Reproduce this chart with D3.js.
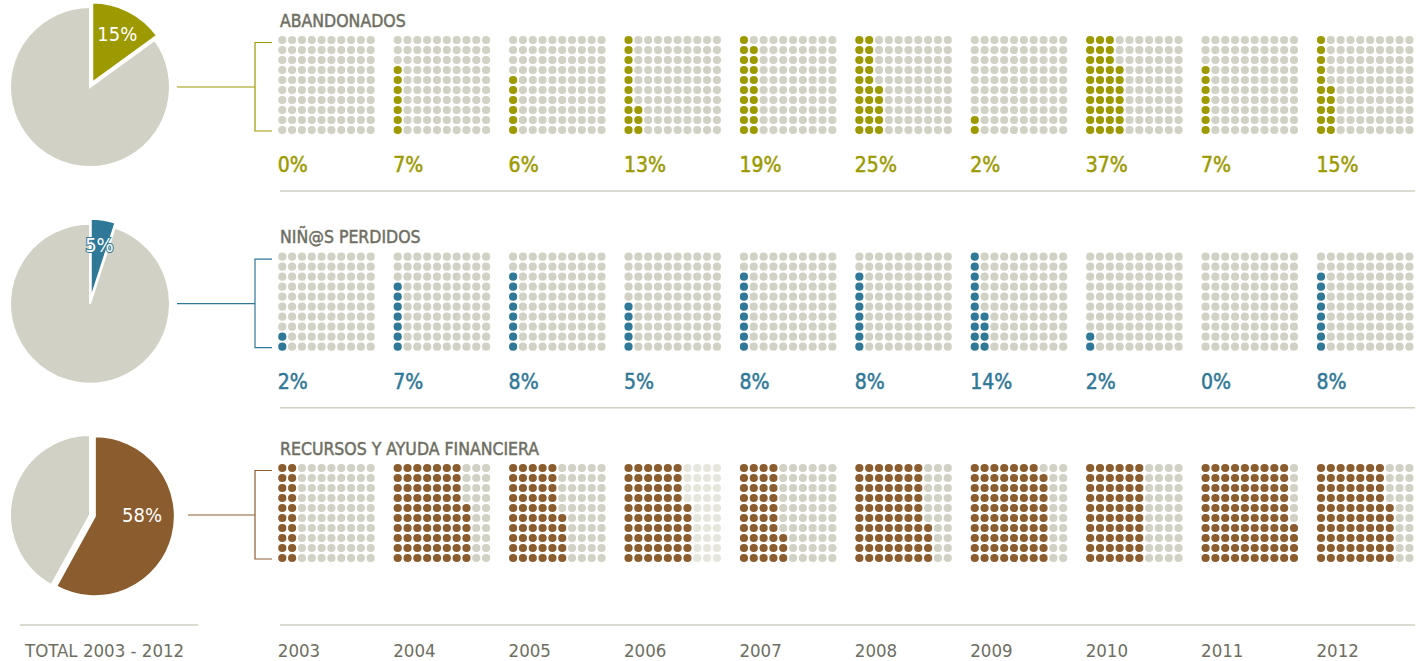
<!DOCTYPE html>
<html>
<head>
<meta charset="utf-8">
<script src="https://cdn.jsdelivr.net/npm/d3@7"></script>
<style>
  body { margin: 0; background: #fff; }
  text { font-family: "DejaVu Sans Condensed", "Liberation Sans Narrow", sans-serif; }
</style>
</head>
<body>
<svg id="chart" width="1423" height="661"></svg>
<script>
// data
var years = [2003, 2004, 2005, 2006, 2007, 2008, 2009, 2010, 2011, 2012];
var categories = ["ABANDONADOS", "NIÑ@S PERDIDOS", "RECURSOS Y AYUDA FINANCIERA"];
var totals = [15, 5, 58];
var abandonados = [0, 7, 6, 13, 19, 25, 2, 37, 7, 15];
var perdidos = [2, 7, 8, 5, 8, 8, 14, 2, 0, 8];
var recursos = [20, 76, 55, 66, 43, 74, 79, 60, 94, 76];
var totalLabel = "TOTAL 2003 - 2012";

var series = [abandonados, perdidos, recursos];
var colors = ["#9c9a00", "#2f7898", "#8b5c2e"];
var showPct = [true, true, false];

var grey = "#d1d1c5",
    lightGrey = "#e6e6de",
    textGrey = "#6e6e62",
    ruleGrey = "#cfcfc2";

var svg = d3.select("#chart");

// layout
var rowTop = [40, 256.7, 468];
var lineStart = [177, 177, 188];
var pieX = 90, pieR = 80;

var x = d3.scalePoint().domain(years).range([282.3, 1321]);
var col = d3.scaleLinear().domain([0, 9]).range([0, 88.4]);
var row = d3.scaleLinear().domain([0, 9]).range([0, 90]);

var cells = d3.range(100);

var pie = d3.pie().sort(null).startAngle(0);
var arc = d3.arc().innerRadius(0).outerRadius(pieR);

series.forEach(function(values, s) {
  var top = rowTop[s];
  var g = svg.append("g");

  // title
  g.append("text")
      .attr("x", 280)
      .attr("y", top - 13.5)
      .attr("fill", textGrey)
      .attr("stroke", textGrey)
      .attr("stroke-width", 0.45)
      .style("font-size", "17.5px")
      .text(categories[s]);

  // waffles
  years.forEach(function(yr, i) {
    var v = values[i];
    var faded = (s == 2 && yr == 2006);
    g.append("g")
        .attr("transform", "translate(" + x(yr) + "," + top + ")")
      .selectAll("circle")
        .data(cells)
      .enter().append("circle")
        .attr("cx", function(d) { return col(Math.floor(d / 10)); })
        .attr("cy", function(d) { return row(9 - d % 10); })
        .attr("r", 4.1)
        .attr("fill", function(d) {
          if (d < v) return colors[s];
          return faded ? lightGrey : grey;
        });

    if (showPct[s]) {
      g.append("text")
          .attr("x", x(yr) - 4.5)
          .attr("y", top + 90 + 42)
          .attr("fill", colors[s])
          .attr("stroke", colors[s])
          .attr("stroke-width", 0.5)
          .style("font-size", "21px")
          .text(v + "%");
    }
  });

  // separator under rows 1 and 2
  if (s < 2) {
    g.append("line")
        .attr("x1", 280).attr("x2", 1415)
        .attr("y1", top + 151).attr("y2", top + 151)
        .attr("stroke", ruleGrey).attr("stroke-width", 1.5);
  }

  // bracket
  var midY = top + 47;
  g.append("path")
      .attr("d", "M272," + (top + 2.5) + "H255V" + (top + 91) + "H272")
      .attr("fill", "none")
      .attr("stroke", colors[s])
      .attr("stroke-width", 1.2);
  g.append("line")
      .attr("x1", lineStart[s]).attr("x2", 255)
      .attr("y1", midY).attr("y2", midY)
      .attr("stroke", colors[s])
      .attr("stroke-width", 1.2);

  // pie
  var arcs = pie([totals[s], 100 - totals[s]]);
  var pg = g.append("g").attr("transform", "translate(" + pieX + "," + midY + ")");
  pg.selectAll("path")
      .data(arcs)
    .enter().append("path")
      .attr("d", arc)
      .attr("fill", function(d, i) { return i == 0 ? colors[s] : grey; })
      .attr("stroke", "#fff")
      .attr("stroke-width", 2)
      .attr("transform", function(d, i) {
        if (i != 0) return null;
        var a = (d.startAngle + d.endAngle) / 2;
        return "translate(" + (Math.sin(a) * 5) + "," + (-Math.cos(a) * 5) + ")";
      });

  var a0 = Math.min((arcs[0].startAngle + arcs[0].endAngle) / 2, Math.PI / 2);
  var lr = totals[s] > 50 ? 52 : 60;
  pg.append("text")
      .attr("x", Math.sin(a0) * lr)
      .attr("y", -Math.cos(a0) * lr)
      .attr("dy", "0.36em")
      .attr("text-anchor", "middle")
      .attr("fill", "#fff")
      .attr("stroke", s == 1 ? colors[s] : "none")
      .attr("stroke-width", 2)
      .style("paint-order", "stroke")
      .style("font-size", "20px")
      .text(totals[s] + "%");
});

// bottom axis line and year labels
svg.append("line")
    .attr("x1", 280).attr("x2", 1415)
    .attr("y1", 625).attr("y2", 625)
    .attr("stroke", ruleGrey).attr("stroke-width", 1.5);
svg.append("line")
    .attr("x1", 20).attr("x2", 198)
    .attr("y1", 625).attr("y2", 625)
    .attr("stroke", ruleGrey).attr("stroke-width", 1.5);

svg.selectAll(".year")
    .data(years)
  .enter().append("text")
    .attr("class", "year")
    .attr("x", function(d) { return x(d) - 4.5; })
    .attr("y", 657)
    .attr("fill", textGrey)
    .style("font-size", "18.5px")
    .text(function(d) { return d; });

svg.append("text")
    .attr("x", 25)
    .attr("y", 657)
    .attr("fill", textGrey)
    .style("font-size", "18.5px")
    .text(totalLabel);
</script>
</body>
</html>
